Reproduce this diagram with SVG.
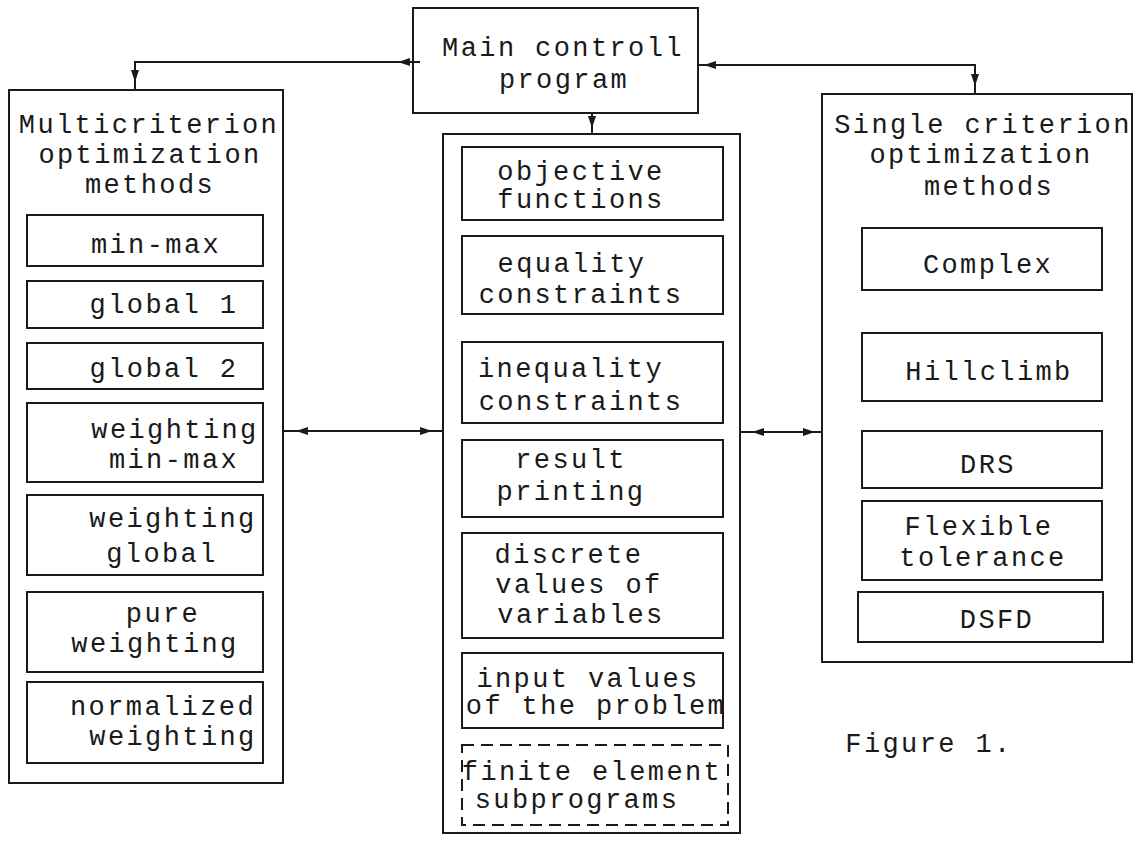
<svg xmlns="http://www.w3.org/2000/svg" width="1135" height="844" viewBox="0 0 1135 844">
<style>
  .box{fill:none;stroke:#1a1a1a;stroke-width:2}
  .dash{fill:none;stroke:#1a1a1a;stroke-width:2;stroke-dasharray:12 7}
  .ln{fill:none;stroke:#1a1a1a;stroke-width:2}
  text{font-family:"Liberation Mono","DejaVu Sans Mono",monospace;font-size:27px;letter-spacing:2.4px;fill:#1a1a1a;text-anchor:middle}
</style>
<defs>
  <marker id="ah" viewBox="0 0 12 8" refX="12" refY="4" markerWidth="12" markerHeight="8" markerUnits="userSpaceOnUse" orient="auto">
    <path d="M0,0 L12,4 L0,8 Z" fill="#1a1a1a"/>
  </marker>
</defs>
<rect width="1135" height="844" fill="#fff"/>

<g id="connectors">
  <path class="ln" d="M413,62 L135,62 L135,90"/>
  <path class="ln" d="M420,62 L398,62" marker-end="url(#ah)"/>
  <path class="ln" d="M135,68 L135,82" marker-end="url(#ah)"/>
  <path class="ln" d="M698,65 L975,65 L975,94"/>
  <path class="ln" d="M730,65 L704,65" marker-end="url(#ah)"/>
  <path class="ln" d="M975,72 L975,86" marker-end="url(#ah)"/>
  <path class="ln" d="M592,113 L592,134"/>
  <path class="ln" d="M592,116 L592,128" marker-end="url(#ah)"/>
  <path class="ln" d="M283,431 L443,431"/>
  <path class="ln" d="M320,431 L296,431" marker-end="url(#ah)"/>
  <path class="ln" d="M410,431 L432,431" marker-end="url(#ah)"/>
  <path class="ln" d="M740,432 L823,432"/>
  <path class="ln" d="M775,432 L752,432" marker-end="url(#ah)"/>
  <path class="ln" d="M795,432 L815,432" marker-end="url(#ah)"/>
</g>

<g id="main">
  <rect class="box" x="413" y="8" width="285" height="105"/>
  <text x="563" y="56">Main controll</text>
  <text x="564" y="88">program</text>
</g>

<g id="multi">
  <rect class="box" x="9" y="90" width="274" height="693"/>
  <text x="149" y="133">Multicriterion</text>
  <text x="150" y="163">optimization</text>
  <text x="150" y="193">methods</text>
</g>
<g id="minmax"><rect class="box" x="27" y="215" width="236" height="51"/><text x="156" y="253">min-max</text></g>
<g id="global1"><rect class="box" x="27" y="281" width="236" height="47"/><text x="164" y="313">global 1</text></g>
<g id="global2"><rect class="box" x="27" y="343" width="236" height="46"/><text x="164" y="377">global 2</text></g>
<g id="wminmax"><rect class="box" x="27" y="403" width="236" height="79"/><text x="175" y="438">weighting</text><text x="174" y="468">min-max</text></g>
<g id="wglobal"><rect class="box" x="27" y="495" width="236" height="80"/><text x="173" y="527">weighting</text><text x="162" y="562">global</text></g>
<g id="pure"><rect class="box" x="27" y="592" width="236" height="80"/><text x="163" y="622">pure</text><text x="155" y="652">weighting</text></g>
<g id="normalized"><rect class="box" x="27" y="682" width="236" height="81"/><text x="163" y="715">normalized</text><text x="173" y="745">weighting</text></g>

<g id="middle">
  <rect class="box" x="443" y="134" width="297" height="699"/>
</g>
<g id="objective"><rect class="box" x="462" y="147" width="261" height="73"/><text x="581" y="180">objective</text><text x="581" y="208">functions</text></g>
<g id="equality"><rect class="box" x="462" y="236" width="261" height="78"/><text x="572" y="272">equality</text><text x="581" y="303">constraints</text></g>
<g id="inequality"><rect class="box" x="462" y="342" width="261" height="81"/><text x="571" y="377">inequality</text><text x="581" y="410">constraints</text></g>
<g id="result"><rect class="box" x="462" y="440" width="261" height="77"/><text x="571" y="468">result</text><text x="571" y="500">printing</text></g>
<g id="discrete"><rect class="box" x="462" y="533" width="261" height="105"/><text x="569" y="563">discrete</text><text x="579" y="593">values of</text><text x="581" y="623">variables</text></g>
<g id="input"><rect class="box" x="462" y="653" width="261" height="75"/><text x="588" y="687">input values</text><text x="596" y="714">of the problem</text></g>
<g id="finite"><rect class="dash" x="462" y="745" width="266" height="80"/><text x="592" y="780">finite element</text><text x="577" y="808">subprograms</text></g>

<g id="single">
  <rect class="box" x="822" y="94" width="310" height="568"/>
  <text x="983" y="133">Single criterion</text>
  <text x="981" y="163">optimization</text>
  <text x="989" y="195">methods</text>
</g>
<g id="complex"><rect class="box" x="862" y="228" width="240" height="62"/><text x="988" y="273">Complex</text></g>
<g id="hillclimb"><rect class="box" x="862" y="333" width="240" height="68"/><text x="989" y="380">Hillclimb</text></g>
<g id="drs"><rect class="box" x="862" y="431" width="240" height="57"/><text x="988" y="473">DRS</text></g>
<g id="flexible"><rect class="box" x="862" y="501" width="240" height="79"/><text x="979" y="535">Flexible</text><text x="983" y="566">tolerance</text></g>
<g id="dsfd"><rect class="box" x="858" y="592" width="245" height="50"/><text x="997" y="628">DSFD</text></g>

<g id="caption"><text x="929" y="752">Figure 1.</text></g>
</svg>
